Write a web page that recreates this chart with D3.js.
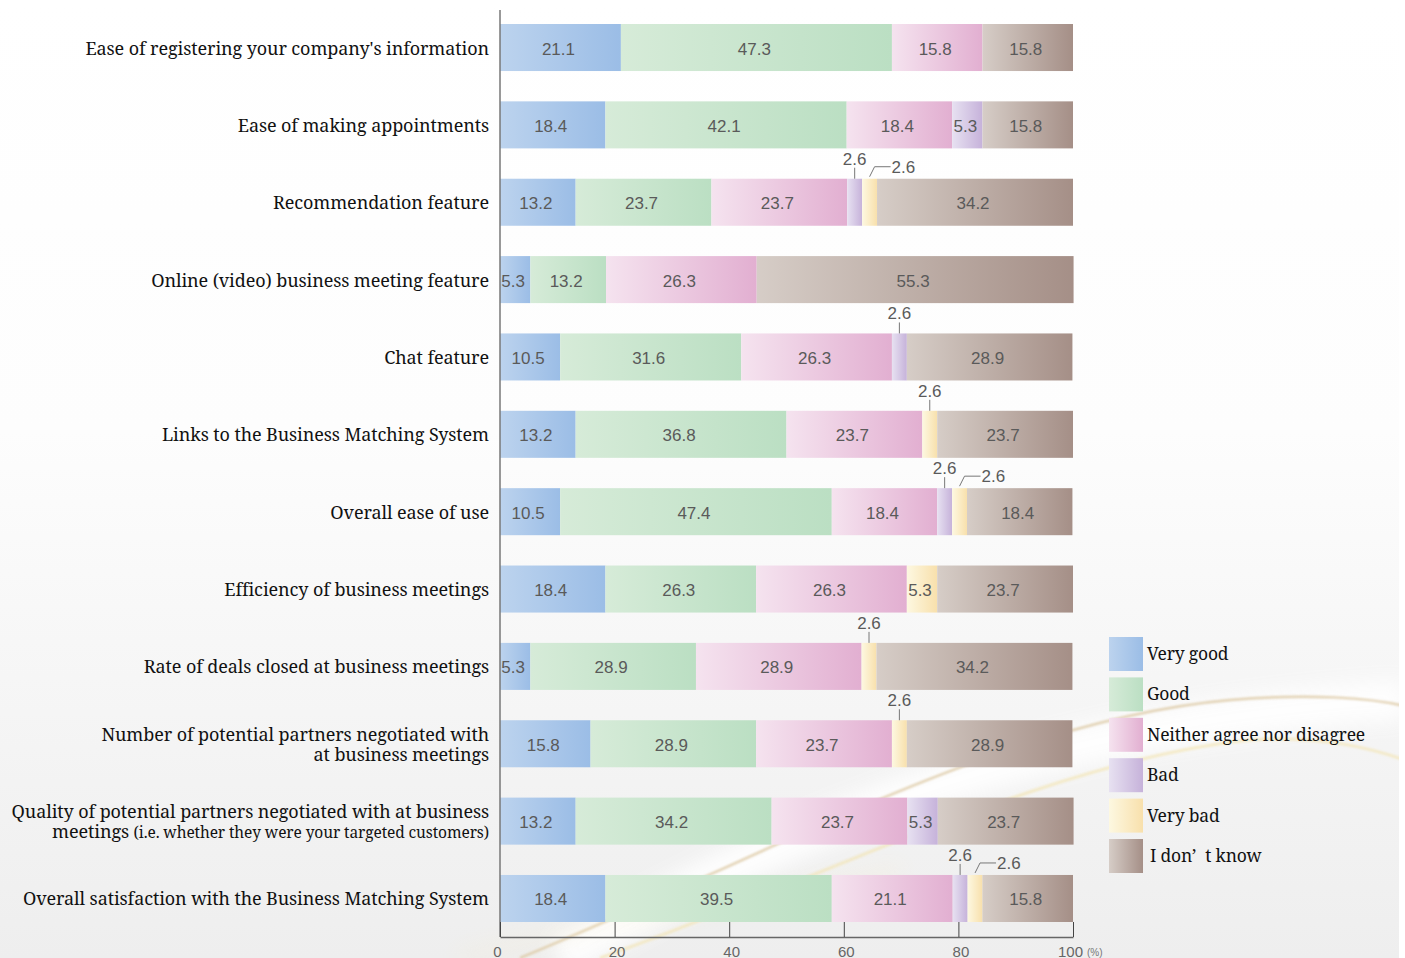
<!DOCTYPE html>
<html>
<head>
<meta charset="utf-8">
<script src="https://cdn.jsdelivr.net/npm/d3@7"></script>
<style>
  html, body { margin: 0; padding: 0; background: #ffffff; }
  svg { display: block; }
</style>
</head>
<body>
<script>
// Survey items (top to bottom); "\n" marks a line break in the label
const categories = [
  "Ease of registering your company's information",
  "Ease of making appointments",
  "Recommendation feature",
  "Online (video) business meeting feature",
  "Chat feature",
  "Links to the Business Matching System",
  "Overall ease of use",
  "Efficiency of business meetings",
  "Rate of deals closed at business meetings",
  "Number of potential partners negotiated with\nat business meetings",
  "Quality of potential partners negotiated with at business\nmeetings (i.e. whether they were your targeted customers)",
  "Overall satisfaction with the Business Matching System"
];

// Share of answers (%) per item
const veryGood = [21.1, 18.4, 13.2, 5.3, 10.5, 13.2, 10.5, 18.4, 5.3, 15.8, 13.2, 18.4];
const good     = [47.3, 42.1, 23.7, 13.2, 31.6, 36.8, 47.4, 26.3, 28.9, 28.9, 34.2, 39.5];
const neither  = [15.8, 18.4, 23.7, 26.3, 26.3, 23.7, 18.4, 26.3, 28.9, 23.7, 23.7, 21.1];
const bad      = [0, 5.3, 2.6, 0, 2.6, 0, 2.6, 0, 0, 0, 5.3, 2.6];
const veryBad  = [0, 0, 2.6, 0, 0, 2.6, 2.6, 5.3, 2.6, 2.6, 0, 2.6];
const dontKnow = [15.8, 15.8, 34.2, 55.3, 28.9, 23.7, 18.4, 23.7, 34.2, 28.9, 23.7, 15.8];

const seriesNames = ["Very good", "Good", "Neither agree nor disagree", "Bad", "Very bad", "I don’t know"];
const xTicks = [0, 20, 40, 60, 80, 100];

const seriesValues = [veryGood, good, neither, bad, veryBad, dontKnow];
const seriesKeys = ["vg", "g", "n", "b", "vb", "dk"];
// light -> dark horizontal gradient stops per answer
const seriesColors = [
  ["#bcd3ee", "#9bbde6"],
  ["#d6ebd8", "#bbdfc3"],
  ["#f5e3ef", "#e2afd1"],
  ["#e7e1f1", "#c6b2da"],
  ["#fdf8e1", "#f8e0ac"],
  ["#d6cdc7", "#a58f87"]
];

const W = 1405, H = 958;
const svg = d3.select("body").append("svg").attr("width", W).attr("height", H);
const defs = svg.append("defs");

// --- background ---
const bg = defs.append("linearGradient").attr("id", "bg").attr("x1", 0).attr("y1", 0).attr("x2", 0).attr("y2", 1);
bg.append("stop").attr("offset", "0").attr("stop-color", "#ffffff");
bg.append("stop").attr("offset", "0.45").attr("stop-color", "#fdfdfd");
bg.append("stop").attr("offset", "1").attr("stop-color", "#eeeeee");
svg.append("rect").attr("width", W).attr("height", H).attr("fill", "url(#bg)");

const soft = defs.append("filter").attr("id", "soft").attr("x", "-10%").attr("y", "-10%").attr("width", "120%").attr("height", "120%");
soft.append("feGaussianBlur").attr("stdDeviation", 1.2);
const haze = defs.append("filter").attr("id", "haze").attr("x", "-20%").attr("y", "-50%").attr("width", "140%").attr("height", "200%");
haze.append("feGaussianBlur").attr("stdDeviation", 10);

const deco = svg.append("g");
// white glow band
deco.append("path")
  .attr("d", "M 560 958 C 800 820, 1050 720, 1405 700")
  .attr("fill", "none").attr("stroke", "#ffffff").attr("stroke-width", 40)
  .attr("opacity", 0.9).attr("filter", "url(#haze)");
// golden swooshes
deco.append("path")
  .attr("d", "M 520 958 C 760 860, 1000 720, 1230 700 C 1310 693, 1370 698, 1405 706")
  .attr("fill", "none").attr("stroke", "#d9c39a").attr("stroke-width", 2.5)
  .attr("opacity", 0.75).attr("filter", "url(#soft)");
deco.append("path")
  .attr("d", "M 600 958 C 820 880, 1050 760, 1250 740 C 1320 735, 1370 748, 1405 760")
  .attr("fill", "none").attr("stroke", "#f3e2a8").attr("stroke-width", 3)
  .attr("opacity", 0.6).attr("filter", "url(#soft)");
deco.append("path")
  .attr("d", "M 460 958 C 600 920, 760 900, 900 870")
  .attr("fill", "none").attr("stroke", "#f6ebc4").attr("stroke-width", 6)
  .attr("opacity", 0.45).attr("filter", "url(#haze)");
svg.append("rect").attr("x", 1399).attr("y", 0).attr("width", 6).attr("height", H).attr("fill", "#ffffff");

// --- gradients per answer ---
seriesKeys.forEach((k, i) => {
  const g = defs.append("linearGradient").attr("id", "grad-" + k)
    .attr("x1", 0).attr("y1", 0).attr("x2", 1).attr("y2", 0);
  g.append("stop").attr("offset", "0").attr("stop-color", seriesColors[i][0]);
  g.append("stop").attr("offset", "1").attr("stop-color", seriesColors[i][1]);
});

// --- scales ---
const x = d3.scaleLinear().domain([0, 100]).range([500, 1073]);
const y = d3.scaleBand().domain(categories).range([24, 922]).paddingInner(0.392).paddingOuter(0);

// stacked layout
const rows = categories.map((c, i) => {
  const r = { category: c };
  seriesKeys.forEach((k, j) => r[k] = seriesValues[j][i]);
  return r;
});
const stacked = d3.stack().keys(seriesKeys)(rows);

const fmt = d3.format(".1f");
const valueFont = "'Liberation Sans', Arial, Helvetica, sans-serif";
const labelFont = "'Noto Serif', 'DejaVu Serif', 'Liberation Serif', Georgia, serif";

const barsG = svg.append("g");
stacked.forEach((layer, si) => {
  const key = seriesKeys[si];
  barsG.selectAll(null).data(layer.filter(d => d[1] - d[0] > 0)).join("rect")
    .attr("x", d => x(d[0]))
    .attr("y", d => y(d.data.category))
    .attr("width", d => x(d[1]) - x(d[0]))
    .attr("height", y.bandwidth())
    .attr("fill", "url(#grad-" + key + ")");
});

// value labels inside segments, or callouts for very small ones
const labelsG = svg.append("g")
  .attr("font-family", valueFont).attr("font-size", 17).attr("fill", "#5a5a5a");
stacked.forEach((layer, si) => {
  const key = seriesKeys[si];
  layer.forEach(d => {
    if (!(d.data[key] > 0)) return;
    const cx = (x(d[0]) + x(d[1])) / 2;
    const top = y(d.data.category);
    const cy = top + y.bandwidth() / 2;
    if (d.data[key] >= 4) {
      labelsG.append("text").attr("x", cx - 2).attr("y", cy + 7)
        .attr("text-anchor", "middle").text(fmt(d.data[key]));
    } else {
      const elbow = key === "vb" && d.data.b > 0 && d.data.b < 4;
      if (elbow) {
        labelsG.append("path")
          .attr("d", `M ${cx} ${top - 2} L ${cx + 5} ${top - 12} L ${cx + 21} ${top - 12}`)
          .attr("fill", "none").attr("stroke", "#777").attr("stroke-width", 1);
        labelsG.append("text").attr("x", cx + 22).attr("y", top - 6)
          .attr("text-anchor", "start").text(fmt(d.data[key]));
      } else {
        labelsG.append("line")
          .attr("x1", cx).attr("x2", cx).attr("y1", top).attr("y2", top - 11)
          .attr("stroke", "#777").attr("stroke-width", 1);
        labelsG.append("text").attr("x", cx).attr("y", top - 14)
          .attr("text-anchor", "middle").text(fmt(d.data[key]));
      }
    }
  });
});

// category labels
const catG = svg.append("g").attr("font-family", labelFont).attr("fill", "#111")
  .attr("text-anchor", "end").attr("letter-spacing", "-0.1px");
categories.forEach(c => {
  const lines = c.split("\n");
  const cy = y(c) + y.bandwidth() / 2;
  const lh = 19.5;
  const y0 = cy - (lines.length - 1) * lh / 2 + 7;
  lines.forEach((ln, li) => {
    const t = catG.append("text").attr("x", 489).attr("y", y0 + li * lh).attr("font-size", 18);
    const p = ln.indexOf("(i.e.");
    if (p >= 0) {
      t.append("tspan").text(ln.slice(0, p));
      t.append("tspan").attr("font-size", 15.5).text(ln.slice(p));
    } else {
      t.text(ln);
    }
  });
});

// axes
svg.append("line").attr("x1", 500).attr("x2", 500).attr("y1", 10).attr("y2", 937)
  .attr("stroke", "#777").attr("stroke-width", 1.5);
const xAxis = d3.axisBottom(x).tickValues(xTicks).tickSizeInner(-15).tickSizeOuter(0).tickPadding(18);
const ax = svg.append("g").attr("transform", "translate(0,937)").call(xAxis);
ax.select(".domain").attr("stroke", "#666").attr("stroke-width", 1.5);
ax.selectAll(".tick line").attr("stroke", "#444");
ax.selectAll(".tick text").attr("font-family", valueFont).attr("font-size", 15).attr("fill", "#666")
  .attr("dy", "0.1em").attr("dx", d => d === 100 ? -3 : (d === 0 ? -3 : 2));
svg.append("text").attr("x", 1087).attr("y", 956).attr("font-family", valueFont)
  .attr("font-size", 10).attr("fill", "#777").text("(%)");

// legend
const legend = svg.append("g").attr("font-family", labelFont).attr("font-size", 17.5)
  .attr("fill", "#111").attr("letter-spacing", "-0.2px");
seriesNames.forEach((name, i) => {
  const ly = 637 + i * 40.4;
  legend.append("rect").attr("x", 1109).attr("y", ly).attr("width", 34).attr("height", 34)
    .attr("fill", "url(#grad-" + seriesKeys[i] + ")");
  const t = legend.append("text").attr("x", 1147).attr("y", ly + 23);
  if (name.includes("’")) {
    const [a, b] = name.split("’");
    t.attr("x", 1150);
    t.append("tspan").text(a + "’");
    t.append("tspan").attr("dx", 9).text(b);
  } else {
    t.text(name);
  }
});
</script>
</body>
</html>
